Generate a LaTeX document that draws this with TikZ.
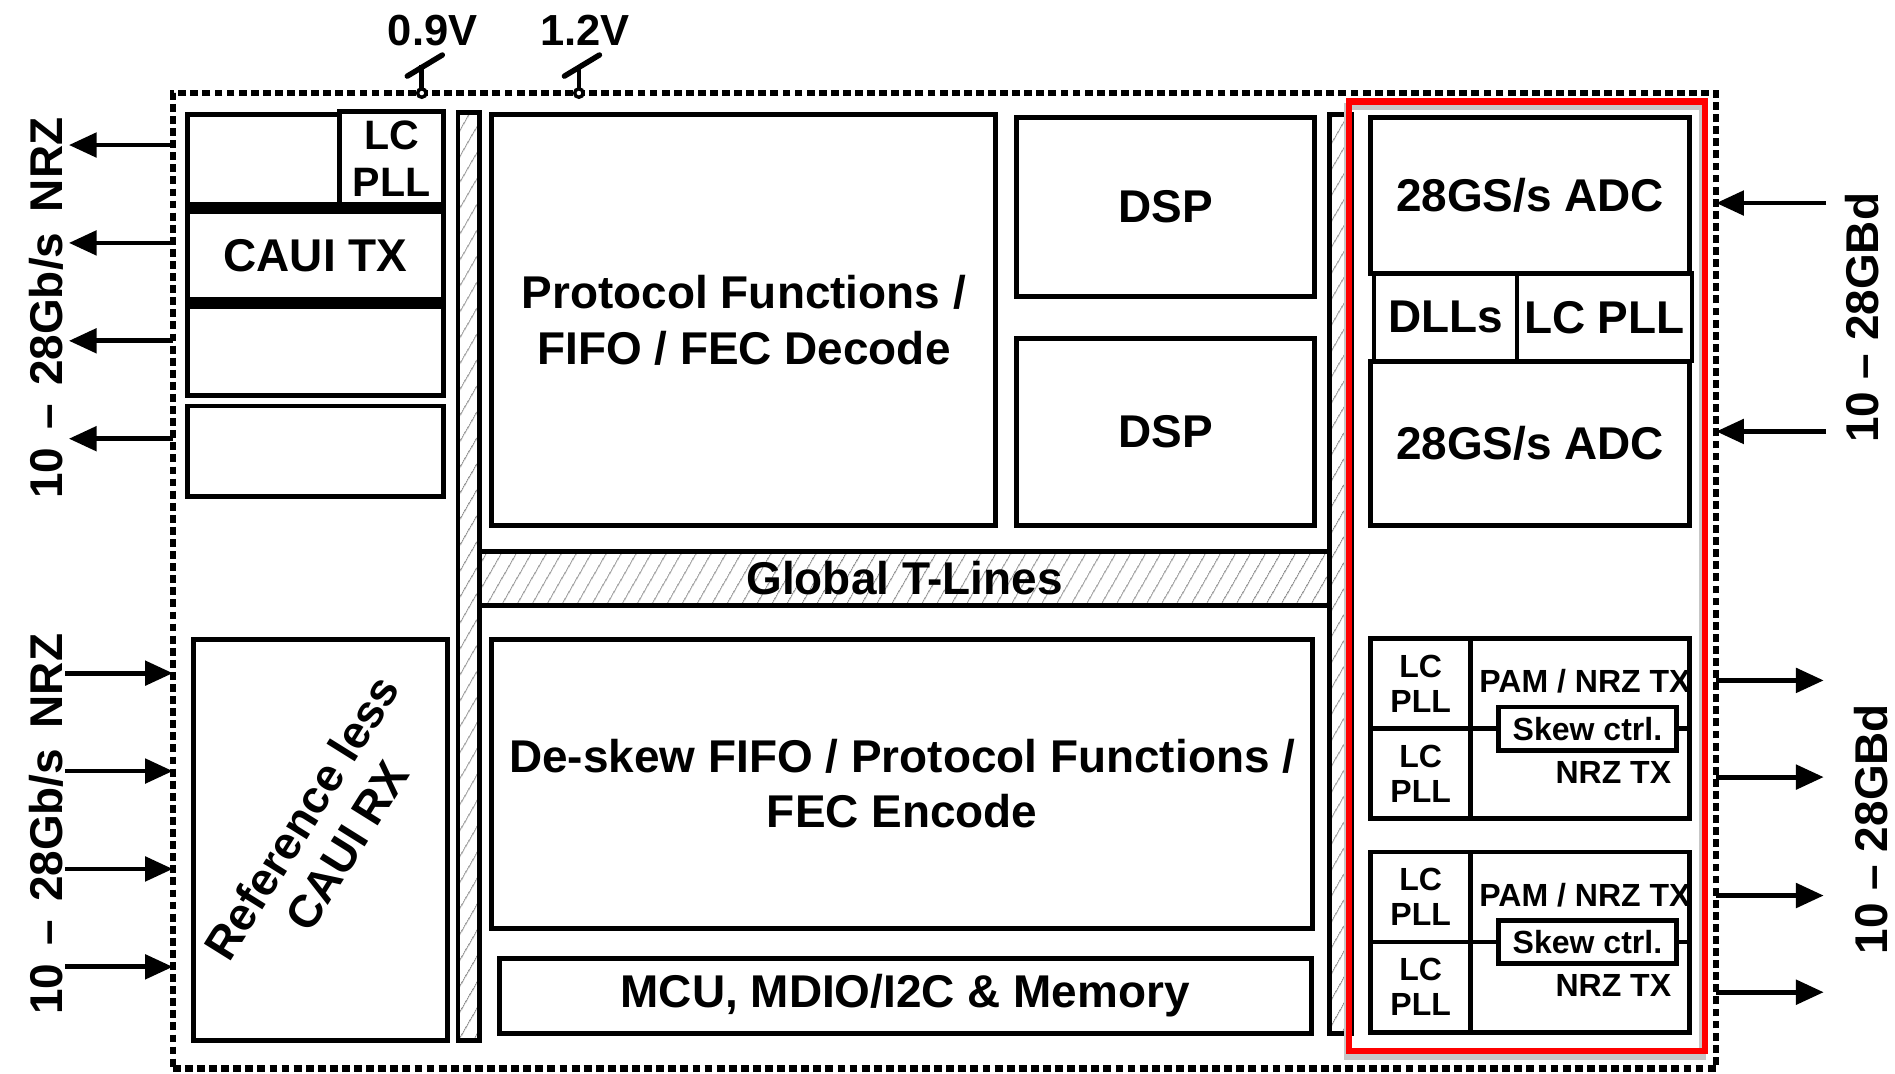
\documentclass[tikz,border=0pt]{standalone}
\usepackage{fontspec}
\setmainfont{Liberation Sans}
\usetikzlibrary{arrows.meta,patterns.meta}

\begin{document}
\begin{tikzpicture}[x=1pt,y=-1pt,
  f38/.style={font=\bfseries\fontsize{38}{46}\selectfont},
  f34/.style={font=\bfseries\fontsize{34}{40}\selectfont},
  f27/.style={font=\bfseries\fontsize{26.5}{32}\selectfont},
  blk/.style={draw, line width=4pt, inner sep=0pt, outer sep=0pt, align=center, fill=white, f38},
  cell/.style={draw, line width=3.5pt, inner sep=0pt, outer sep=0pt, align=center, f38},
  lccell/.style={draw, line width=4pt, inner sep=0pt, outer sep=0pt, align=center, f27},
  hatchbar/.style={draw, line width=4pt, inner sep=0pt, outer sep=0pt,
    pattern={Lines[angle=60,distance=10.5pt,line width=0.9pt]}, pattern color=black!45},
  chipbox/.style={draw, line width=5.2pt, dash pattern=on 6.5pt off 3.5pt,
    inner sep=0pt, outer sep=0pt},
  arr/.style={line width=4pt, -{Triangle[length=23pt,width=20pt]}},
  tap/.style={circle, draw, fill=white, line width=2.8pt, minimum size=7pt, inner sep=0pt, outer sep=0pt},
  rot/.style={rotate=90, f38, inner sep=0pt},
  txt/.style={inner sep=0pt, f27}
]
\useasboundingbox (0,0) rectangle (1568,888);

% chip outline
\node[chipbox, minimum width=1277pt, minimum height=807pt] (chip) at (781.5,480.5) {};

% supply taps
\node[tap] (t09) at (349,77) {};
\node[tap] (t12) at (479,77) {};
\foreach \t in {t09,t12}{
  \draw[line width=3.8pt] (\t.north) -- ++(0,-20);
  \draw[line width=4.5pt, line cap=round] ([shift={(-12,-14)}]\t.center) -- ++(29,-17.5);
}
\node[font=\bfseries\fontsize{36}{40}\selectfont, inner sep=0pt] (v09) at (358,25) {0.9V};
\node[font=\bfseries\fontsize{36}{40}\selectfont, inner sep=0pt] (v12) at (484,25) {1.2V};

% hatched interconnect bars
\node[hatchbar, minimum width=18pt, minimum height=768pt] (barL) at (388,477) {};
\node[hatchbar, minimum width=703pt, minimum height=45pt, f38] (tl) at (748.5,478.5) {Global T-Lines};
\node[hatchbar, minimum width=18pt, minimum height=760pt] (barR) at (1109,475) {};

% CAUI TX column
\node[blk, minimum width=212pt, minimum height=77pt] (tx1) at (261,133.5) {};
\node[blk, minimum width=86pt, minimum height=77pt, f34] (lcpllL) at (324,131) {LC\\[-1pt]PLL};
\node[blk, minimum width=212pt, minimum height=79pt] (tx2) at (261,211.5) {CAUI TX};
\node[blk, minimum width=212pt, minimum height=76pt] (tx3) at (261,289) {};
\node[blk, minimum width=212pt, minimum height=75pt] (tx4) at (261,373.5) {};
\draw[line width=10pt] (tx1.south west) -- (tx1.south east);
\draw[line width=10pt] (tx2.south west) -- (tx2.south east);

% CAUI RX
\node[blk, minimum width=210pt, minimum height=332pt] (rx) at (265,695) {};
\node[f38, rotate=58, align=center, inner sep=0pt] (rxt) at (268,688) {Reference less\\[-2pt]CAUI RX};

% digital core
\node[blk, minimum width=417pt, minimum height=340pt] (proto) at (615.5,265)
  {Protocol Functions /\\[1pt]FIFO / FEC Decode};
\node[blk, minimum width=247pt, minimum height=148pt] (dsp1) at (964.5,171) {DSP};
\node[blk, minimum width=247pt, minimum height=155pt] (dsp2) at (964.5,357.5) {DSP};
\node[blk, minimum width=679pt, minimum height=239pt] (deskew) at (746.5,648.5)
  {De-skew FIFO / Protocol Functions /\\[-1pt]FEC Encode};
\node[blk, minimum width=672pt, minimum height=62pt] (mcu) at (749,824) {MCU, MDIO/I2C \& Memory};

% analog front end, with a soft shadow under its outline
\draw[black!22, line width=6pt] (1115,88) rectangle (1409,874);
\node[draw=red, line width=5pt, minimum width=295pt, minimum height=786pt, inner sep=0pt] (afe) at (1263.5,477) {};

\node[blk, minimum width=264pt, minimum height=129pt] (adc1) at (1266,161.5) {28GS/s ADC};
\node[cell, minimum width=118pt, minimum height=73pt] (dll) at (1196,262.5) {DLLs};
\node[cell, minimum width=145pt, minimum height=73pt] (lcpllR) at (1327.5,262.5) {LC PLL};
\node[blk, minimum width=264pt, minimum height=136pt] (adc2) at (1266,367) {28GS/s ADC};

% transmitters
\foreach \n/\cy in {a/603, b/779.5}{
  \node[blk, minimum width=264pt, minimum height=149pt] (tx\n) at (1266,\cy) {};
  \node[lccell, minimum width=83pt, minimum height=74.5pt, anchor=south west] (lcu\n) at (tx\n.west) {LC\\[-3pt]PLL};
  \node[lccell, minimum width=83pt, minimum height=74.5pt, anchor=north west] (lcd\n) at (tx\n.west) {LC\\[-3pt]PLL};
  \node[lccell, fill=white, minimum width=147pt, minimum height=36pt] (sk\n) at ([xshift=47.5pt]tx\n.center) {Skew ctrl.};
  \draw[line width=4pt] (lcu\n.south east) -- (sk\n.west);
  \draw[line width=4pt] (sk\n.east) -- (tx\n.east);
  \node[txt, anchor=east] (pam\n) at ([shift={(1,-39)}]tx\n.east) {PAM / NRZ TX};
  \node[txt, anchor=east] (nrz\n) at ([shift={(-15,36)}]tx\n.east) {NRZ TX};
}

% left I/O
\foreach \i/\y in {1/120,2/201,3/282,4/363}{
  \coordinate (oL\i) at (57,\y);
  \draw[arr] (chip.west |- oL\i) -- (oL\i);
}
\foreach \i/\y in {1/557,2/638,3/719,4/800}{
  \coordinate (iL\i) at (54,\y);
  \draw[arr] (iL\i) -- (chip.west |- iL\i);
}
\node[rot] (lblL1) at (38,255) {10\hspace{15pt}–\hspace{15pt}28Gb/s\hspace{17pt}NRZ};
\node[rot] (lblL2) at (38,682) {10\hspace{15pt}–\hspace{15pt}28Gb/s\hspace{17pt}NRZ};

% right I/O
\foreach \i/\y in {1/168,2/357}{
  \coordinate (iR\i) at (1511,\y);
  \draw[arr] (iR\i) -- (chip.east |- iR\i);
}
\foreach \i/\y in {1/563,2/643,3/741,4/821}{
  \coordinate (oR\i) at (1509,\y);
  \draw[arr] (chip.east |- oR\i) -- (oR\i);
}
\node[rot] (lblR1) at (1541,263) {10 – 28GBd};
\node[rot] (lblR2) at (1548,686) {10 – 28GBd};
\end{tikzpicture}
\end{document}
